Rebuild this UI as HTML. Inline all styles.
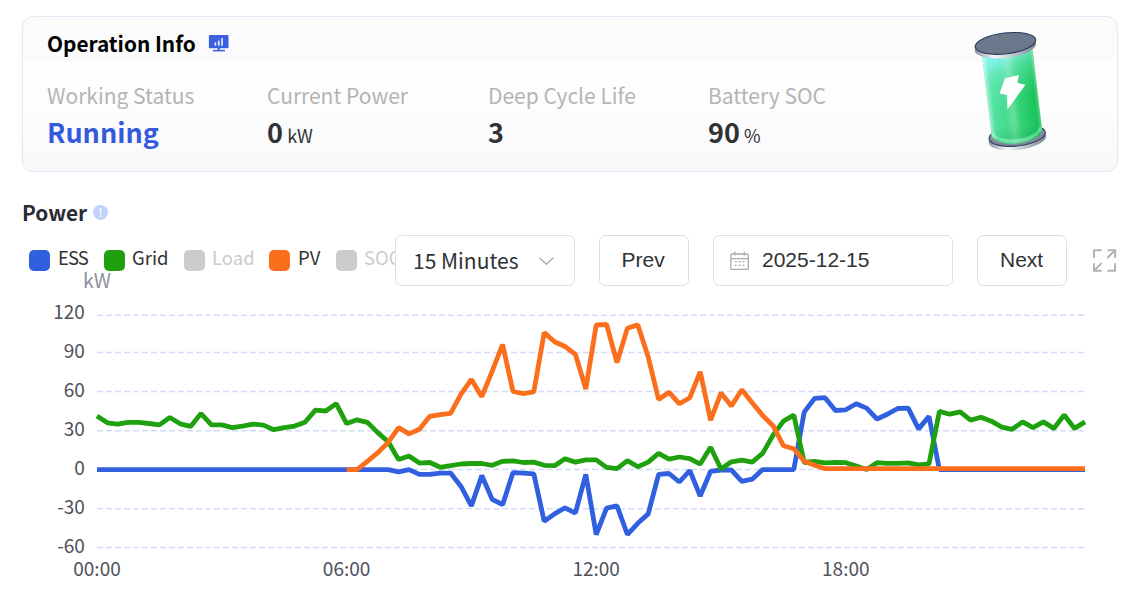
<!DOCTYPE html>
<html lang="en">
<head>
<meta charset="utf-8">
<title>Operation Info</title>
<style>
html,body{margin:0;padding:0;background:#fff;}
body{width:1146px;height:598px;position:relative;overflow:hidden;font-family:"Noto Sans CJK SC","Liberation Sans",sans-serif;color:#303133;}
.abs{position:absolute;white-space:nowrap;}
.card{position:absolute;left:22px;top:16px;width:1094px;height:154px;border:1px solid #e4e7f6;border-radius:11px;background:linear-gradient(180deg,#fbfbfc 0%,#fbfbfc 28%,#fefefe 28.500%,#fdfdfe 55%,#f9f9fb 100%);}
.title{font-weight:700;font-size:20.8px;color:#000;line-height:28px;}
.lbl{font-size:21px;color:#b4b4b4;line-height:28px;}
.val{font-weight:700;font-size:27px;color:#303133;line-height:36px;}
.val small{font-weight:400;font-size:18px;margin-left:4.200px;}
.leg{font-size:18.500px;line-height:24px;color:#333;}
.leg.off{color:#ccc;}
.sq{position:absolute;width:21.200px;height:21px;border-radius:5px;top:250px;}
.box{position:absolute;top:235.300px;height:50.500px;border:1.400px solid #d9dce9;border-radius:6.500px;background:#fff;box-sizing:border-box;}
.arial{font-family:"Liberation Sans",sans-serif;font-size:21px;color:#303133;line-height:48px;}
</style>
</head>
<body>
<div class="card"></div>
<div class="abs title" style="left:47px;top:29.2px;">Operation Info</div>
<svg class="abs" style="left:205px;top:30px;" width="28" height="26" viewBox="205 30 28 26">
  <rect x="208.900" y="35.100" width="19.600" height="13.100" rx="0.900" fill="#3b60df"/>
  <rect x="214.500" y="42.400" width="1.700" height="3.300" fill="#e4eafc"/><rect x="217.900" y="40.600" width="1.700" height="5.100" fill="#e4eafc"/><rect x="221.200" y="38.200" width="1.700" height="7.500" fill="#e4eafc"/>
  <rect x="217.600" y="48.100" width="2.300" height="2" fill="#3b60df"/><rect x="212.800" y="49.900" width="12.200" height="1.500" fill="#3b60df"/>
</svg>

<div class="abs lbl" style="left:47px;top:81px;">Working Status</div>
<div class="abs lbl" style="left:267px;top:81px;">Current Power</div>
<div class="abs lbl" style="left:488px;top:81px;">Deep Cycle Life</div>
<div class="abs lbl" style="left:708px;top:81px;">Battery SOC</div>
<div class="abs val" style="left:47px;top:113.5px;color:#3459dc;">Running</div>
<div class="abs val" style="left:267px;top:113.5px;">0<small>kW</small></div>
<div class="abs val" style="left:488px;top:113.5px;">3</div>
<div class="abs val" style="left:708px;top:113.5px;">90<small>%</small></div>

<!-- battery -->
<svg class="abs" style="left:950px;top:20px;" width="120" height="145" viewBox="950 20 120 145">
  <defs>
    <linearGradient id="bg" x1="0" y1="0" x2="1" y2="0">
      <stop offset="0" stop-color="#56e3a6"/><stop offset="0.45" stop-color="#40d988"/><stop offset="1" stop-color="#14c153"/>
    </linearGradient>
    <linearGradient id="bt" gradientUnits="userSpaceOnUse" x1="987" y1="52" x2="1012" y2="112">
      <stop offset="0" stop-color="#88f6f8"/><stop offset="0.2" stop-color="#80f1e4" stop-opacity="0.85"/><stop offset="0.35" stop-color="#76edcc" stop-opacity="0.55"/><stop offset="0.6" stop-color="#70eac0" stop-opacity="0.22"/><stop offset="0.85" stop-color="#6ee8b8" stop-opacity="0"/>
    </linearGradient>
    <linearGradient id="bs" x1="0" y1="0" x2="1" y2="0">
      <stop offset="0.32" stop-color="#fff" stop-opacity="0"/><stop offset="0.47" stop-color="#fff" stop-opacity="0.2"/><stop offset="0.62" stop-color="#fff" stop-opacity="0"/>
    </linearGradient>
    <linearGradient id="bb" x1="0" y1="0" x2="0" y2="1">
      <stop offset="0.80" stop-color="#0a9a40" stop-opacity="0"/><stop offset="0.93" stop-color="#0a9a40" stop-opacity="0.2"/><stop offset="1" stop-color="#7ff0b0" stop-opacity="0.3"/>
    </linearGradient>
    <linearGradient id="be" x1="0" y1="0" x2="1" y2="0">
      <stop offset="0" stop-color="#fff" stop-opacity="0.45"/><stop offset="0.1" stop-color="#fff" stop-opacity="0"/><stop offset="0.93" stop-color="#fff" stop-opacity="0"/><stop offset="1" stop-color="#fff" stop-opacity="0.3"/>
    </linearGradient>
    <linearGradient id="rim" x1="0" y1="0" x2="1" y2="0">
      <stop offset="0" stop-color="#8f959c"/><stop offset="0.3" stop-color="#f4f6f8"/><stop offset="0.55" stop-color="#c9ced4"/><stop offset="1" stop-color="#7e858e"/>
    </linearGradient>
  </defs>
  <g transform="rotate(-6.800 1005.400 43.400)">
    <ellipse cx="1005.900" cy="139.900" rx="28.900" ry="10.800" fill="url(#rim)"/>
    <ellipse cx="1006.200" cy="136.300" rx="28.300" ry="10.300" fill="#808b9a" stroke="#2b3f63" stroke-width="1.100"/>
    <path d="M980.800 48 L980.800 132.600 A25.400 11.500 0 0 0 1031.600 132.600 L1031.600 48 Z" fill="url(#bg)"/>
    <path d="M980.800 48 L980.800 132.600 A25.400 11.500 0 0 0 1031.600 132.600 L1031.600 48 Z" fill="url(#bt)"/>
    <path d="M980.800 48 L980.800 132.600 A25.400 11.500 0 0 0 1031.600 132.600 L1031.600 48 Z" fill="url(#bs)"/>
    <path d="M980.800 48 L980.800 132.600 A25.400 11.500 0 0 0 1031.600 132.600 L1031.600 48 Z" fill="url(#bb)"/>
    <path d="M980.800 48 L980.800 132.600 A25.400 11.500 0 0 0 1031.600 132.600 L1031.600 48 Z" fill="url(#be)"/>
    <path d="M982.500 130.500 A23.700 10.800 0 0 0 1029.900 130.500" fill="none" stroke="#b4ffd8" stroke-opacity="0.4" stroke-width="3"/>
    <ellipse cx="1004.900" cy="47" rx="30.900" ry="11" fill="url(#rim)"/>
    <ellipse cx="1005.400" cy="43.400" rx="30.500" ry="10.400" fill="#6c788c" stroke="#24385c" stroke-width="1.100"/>
  </g>
  <path d="M1005 78.200 L1018.900 75 L1017.300 83 L1025.500 84.800 L1007.500 109.500 L1007 95 L999.500 93.400 Z" fill="#fff"/>
</svg>

<div class="abs title" style="left:22px;top:197.800px;color:#2a2b35;">Power</div>
<svg class="abs" style="left:90px;top:202px;" width="22" height="22" viewBox="90 202 22 22"><circle cx="100.500" cy="212.400" r="7.500" fill="#c3d2fb"/><rect x="99.800" y="208.100" width="1.400" height="6.300" fill="#fff"/><rect x="99.800" y="215.400" width="1.400" height="1.600" fill="#fff"/></svg>

<div class="sq" style="left:29px;background:#305fe0;"></div><div class="abs leg" style="left:58px;top:245px;letter-spacing:-0.900px;">ESS</div>
<div class="sq" style="left:103.500px;background:#1fa10f;"></div><div class="abs leg" style="left:132px;top:245px;">Grid</div>
<div class="sq" style="left:184px;background:#cccccc;"></div><div class="abs leg off" style="left:212px;top:245px;">Load</div>
<div class="sq" style="left:269px;background:#fb6f1c;"></div><div class="abs leg" style="left:298px;top:245px;">PV</div>
<div class="sq" style="left:335.800px;background:#cccccc;"></div><div class="abs leg off" style="left:364px;top:245px;">SOC</div>
<div class="abs" style="left:83px;top:267.500px;font-size:19.500px;line-height:24px;color:#8d909c;">kW</div>

<div class="box" style="left:395.200px;width:179.600px;border-width:1.800px;border-color:#dcdfeb;"></div>
<div class="abs" style="left:413px;top:236.400px;font-size:21px;line-height:48px;color:#303133;">15 Minutes</div>
<svg class="abs" style="left:535px;top:250px;" width="24" height="22" viewBox="535 250 24 22"><path d="M539.500 257.700 L546.400 264.200 L553.300 257.700" fill="none" stroke="#a8abb2" stroke-width="1.400"/></svg>

<div class="box" style="left:599px;width:89.600px;"></div>
<div class="abs arial" style="left:598.200px;top:236.400px;width:90px;text-align:center;">Prev</div>
<div class="box" style="left:713px;width:239.500px;border-width:1.800px;border-color:#dcdfeb;"></div>
<svg class="abs" style="left:725px;top:248px;" width="30" height="26" viewBox="725 248 30 26"><g fill="none" stroke="#a8abb2" stroke-width="1.300"><rect x="730.800" y="254" width="17.500" height="15.400" rx="1.200"/><path d="M730.800 258.700 H748.300 M734.900 251.600 V255.600 M744.300 251.600 V255.600"/></g><g fill="#a8abb2"><rect x="734.9" y="261.0" width="1.900" height="1.400"/><rect x="738.7" y="261.0" width="1.900" height="1.400"/><rect x="742.5" y="261.0" width="1.900" height="1.400"/><rect x="734.9" y="264.7" width="1.900" height="1.400"/><rect x="738.7" y="264.7" width="1.900" height="1.400"/><rect x="742.5" y="264.7" width="1.900" height="1.400"/></g></svg>
<div class="abs arial" style="left:762px;top:236.400px;">2025-12-15</div>
<div class="box" style="left:977.100px;width:89.600px;"></div>
<div class="abs arial" style="left:976.600px;top:236.400px;width:90px;text-align:center;">Next</div>
<svg class="abs" style="left:1088px;top:245px;" width="32" height="32" viewBox="1088 245 32 32"><g fill="none" stroke="#b0b3b9" stroke-width="2"><path d="M1094 257.800 V250.200 H1101.600"/><path d="M1107.800 250.200 H1115.100 V257.800"/><path d="M1115.100 250.200 L1107.300 258"/><path d="M1094 263.300 V270.700 H1101.600"/><path d="M1094 270.700 L1101.600 263.100"/><path d="M1107.300 270.700 H1115.100 V263.300"/></g></svg>

<svg class="abs" style="left:0;top:290px;" width="1146" height="308" viewBox="0 290 1146 308">
  <g stroke="#d2dbf8" stroke-width="1.500" stroke-dasharray="6 3" fill="none"><line x1="97" x2="1085.5" y1="315.20" y2="315.20"/><line x1="97" x2="1085.5" y1="352.60" y2="352.60"/><line x1="97" x2="1085.5" y1="391.50" y2="391.50"/><line x1="97" x2="1085.5" y1="430.70" y2="430.70"/><line x1="97" x2="1085.5" y1="469.50" y2="469.50"/><line x1="97" x2="1085.5" y1="508.70" y2="508.70"/><line x1="97" x2="1085.5" y1="547.60" y2="547.60"/></g>
  <g font-size="19" fill="#4e525c" font-family="'Noto Sans CJK SC','Liberation Sans',sans-serif"><text x="84.9" y="318.9" text-anchor="end">120</text><text x="84.9" y="358.4" text-anchor="end">90</text><text x="84.9" y="397.2" text-anchor="end">60</text><text x="84.9" y="436.2" text-anchor="end">30</text><text x="84.9" y="475.2" text-anchor="end">0</text><text x="84.9" y="514.3" text-anchor="end">-30</text><text x="84.9" y="553.2" text-anchor="end">-60</text>
    <text x="97" y="575.600" text-anchor="middle">00:00</text>
    <text x="346.600" y="575.600" text-anchor="middle">06:00</text>
    <text x="596.200" y="575.600" text-anchor="middle">12:00</text>
    <text x="845.800" y="575.600" text-anchor="middle">18:00</text>
  </g>
  <g fill="none" stroke-width="4.800" stroke-linejoin="bevel" stroke-linecap="butt">
    <polyline stroke="#305fe0" points="97.0,469.6 107.4,469.6 117.8,469.6 128.2,469.6 138.6,469.6 149.0,469.6 159.4,469.6 169.8,469.6 180.2,469.6 190.6,469.6 201.0,469.6 211.4,469.6 221.8,469.6 232.2,469.6 242.6,469.6 253.0,469.6 263.4,469.6 273.8,469.6 284.2,469.6 294.6,469.6 305.0,469.6 315.4,469.6 325.8,469.6 336.2,469.6 346.6,469.6 357.0,469.6 367.4,469.6 377.8,469.6 388.2,469.6 398.6,471.8 409.0,469.6 419.4,474.4 429.8,474.4 440.2,473.2 450.6,473.1 461.0,486.4 471.4,505.9 481.8,475.5 492.2,499.4 502.6,504.7 513.0,472.6 523.4,473.1 533.8,473.8 544.2,521.3 554.6,513.9 565.0,507.8 575.4,513.0 585.8,474.4 596.2,534.5 606.6,508.1 617.0,505.9 627.4,534.5 637.8,523.3 648.2,513.9 658.6,474.4 669.0,473.5 679.4,482.0 689.8,470.5 700.2,496.1 710.6,471.3 721.0,470.0 731.4,470.0 741.8,481.3 752.2,479.2 762.6,469.6 773.0,469.6 783.4,469.6 793.8,469.6 804.2,412.1 814.6,398.4 825.0,397.7 835.4,410.5 845.8,409.8 856.2,403.7 866.6,408.1 877.0,419.0 887.4,414.2 897.8,408.5 908.2,408.1 918.6,428.9 929.0,416.4 939.4,469.6 949.8,469.6 960.2,469.6 970.6,469.6 981.0,469.6 991.4,469.6 1001.8,469.6 1012.2,469.6 1022.6,469.6 1033.0,469.6 1043.4,469.6 1053.8,469.6 1064.2,469.6 1074.6,469.6 1085.0,469.6"/>
    <polyline stroke="#1fa10f" points="97.0,415.9 107.4,422.8 117.8,424.2 128.2,422.3 138.6,422.3 149.0,423.5 159.4,424.9 169.8,417.5 180.2,423.8 190.6,426.4 201.0,413.6 211.4,424.9 221.8,424.9 232.2,427.6 242.6,426.2 253.0,424.1 263.4,425.1 273.8,429.7 284.2,427.7 294.6,426.1 305.0,422.3 315.4,410.1 325.8,411.0 336.2,403.6 346.6,423.6 357.0,419.8 367.4,422.4 377.8,432.6 388.2,441.8 398.6,459.6 409.0,456.0 419.4,463.1 429.8,462.5 440.2,467.3 450.6,465.7 461.0,464.0 471.4,463.5 481.8,463.5 492.2,465.3 502.6,461.3 513.0,460.9 523.4,462.5 533.8,462.1 544.2,465.3 554.6,465.7 565.0,458.7 575.4,462.1 585.8,459.9 596.2,459.9 606.6,467.4 617.0,468.6 627.4,460.6 637.8,466.7 648.2,462.1 658.6,453.4 669.0,459.2 679.4,457.0 689.8,458.6 700.2,464.1 710.6,447.2 721.0,469.0 731.4,461.8 741.8,460.2 752.2,462.1 762.6,453.4 773.0,435.3 783.4,421.1 793.8,415.1 804.2,462.5 814.6,461.3 825.0,462.8 835.4,462.5 845.8,462.7 856.2,466.0 866.6,469.6 877.0,462.7 887.4,463.4 897.8,463.4 908.2,462.8 918.6,464.8 929.0,463.8 939.4,411.4 949.8,414.2 960.2,411.8 970.6,420.1 981.0,417.2 991.4,421.2 1001.8,427.1 1012.2,429.3 1022.6,421.9 1033.0,427.7 1043.4,421.9 1053.8,428.4 1064.2,415.1 1074.6,428.4 1085.0,421.9"/>
    <polyline stroke="#fb6f1c" points="346.6,469.6 357.0,469.6 367.4,461.3 377.8,452.7 388.2,442.4 398.6,427.6 409.0,433.9 419.4,429.2 429.8,416.3 440.2,414.7 450.6,413.4 461.0,394.1 471.4,379.4 481.8,396.7 492.2,371.2 502.6,344.5 513.0,391.5 523.4,393.6 533.8,391.9 544.2,332.6 554.6,341.7 565.0,346.5 575.4,354.3 585.8,389.0 596.2,324.9 606.6,324.5 617.0,362.5 627.4,328.2 637.8,324.9 648.2,357.0 658.6,399.5 669.0,392.2 679.4,403.8 689.8,397.7 700.2,371.8 710.6,420.2 721.0,392.9 731.4,406.0 741.8,389.7 752.2,402.8 762.6,415.4 773.0,425.7 783.4,445.7 793.8,448.8 804.2,461.3 814.6,465.3 825.0,468.7 835.4,468.7 845.8,468.7 856.2,468.7 866.6,468.7 877.0,468.7 887.4,468.7 897.8,468.7 908.2,468.7 918.6,468.7 929.0,468.7 939.4,468.7 949.8,468.7 960.2,468.7 970.6,468.7 981.0,468.7 991.4,468.7 1001.8,468.7 1012.2,468.7 1022.6,468.7 1033.0,468.7 1043.4,468.7 1053.8,468.7 1064.2,468.7 1074.6,468.7 1085.0,468.7"/>
  </g>
</svg>
</body>
</html>
